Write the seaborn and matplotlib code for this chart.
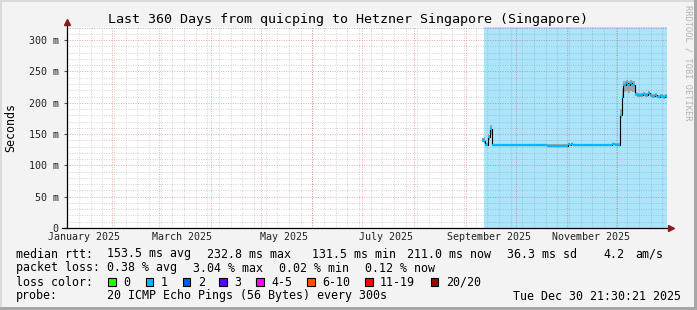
import numpy as np
import pandas as pd
import matplotlib
matplotlib.use("Agg")
import matplotlib.pyplot as plt
import matplotlib.dates as mdates
import matplotlib.transforms as mtransforms
from matplotlib.patches import Rectangle
import seaborn as sns

# ---------------- data ----------------
title = "Last 360 Days from quicping to Hetzner Singapore (Singapore)"
t_start = "2025-01-04 21:30:21"
t_end = "2025-12-30 21:30:21"
shade_start = "2025-09-12 02:00"

rtt_times = [
    "2025-09-10 21:00", "2025-09-12 02:00", "2025-09-12 16:00", "2025-09-14 12:00",
    "2025-09-15 16:00", "2025-09-16 21:00", "2025-10-01 00:00", "2025-10-20 00:00",
    "2025-11-01 11:00", "2025-11-02 16:00", "2025-11-03 12:00", "2025-11-04 12:00",
    "2025-11-27 21:00", "2025-11-29 12:00", "2025-12-02 16:00", "2025-12-03 20:00",
    "2025-12-04 08:00", "2025-12-06 00:00", "2025-12-07 12:00", "2025-12-08 16:00",
    "2025-12-09 20:00", "2025-12-11 16:00", "2025-12-12 21:00", "2025-12-14 12:00",
    "2025-12-16 11:00", "2025-12-17 16:00", "2025-12-19 11:00", "2025-12-20 16:00",
    "2025-12-21 21:00", "2025-12-23 16:00", "2025-12-24 21:00", "2025-12-26 16:00",
    "2025-12-28 16:00", "2025-12-29 16:00", "2025-12-30 21:30",
]
rtt_median = [
    141, 139, 133, 146,
    158, 132.5, 132, 131.5,
    134, 132, 133.5, 132,
    134.5, 133, 180, 210,
    229, 231, 228, 232,
    229, 214, 213, 212,
    214, 212, 215, 213,
    211, 212.5, 210, 210.5,
    209.5, 211, 211,
]
smoke_lo = [
    138, 136, 132, 140,
    150, 131.5, 131, 131,
    132, 131, 132, 131,
    133, 132, 175, 200,
    217, 218, 216, 219,
    217, 211, 210, 209,
    211, 209, 212, 210,
    208, 209.5, 207, 207.5,
    206.5, 208, 208,
]
smoke_hi = [
    144, 146, 136, 149,
    165, 134.5, 134, 133.5,
    136, 134, 135.5, 134,
    136.5, 135, 190, 222,
    235, 236, 234, 237,
    234, 217, 216, 215,
    217, 215, 218, 216,
    214, 215.5, 213, 213.5,
    212.5, 214, 214,
]

y_ticks = [0, 50, 100, 150, 200, 250, 300]
y_tick_labels = ["0", "50 m", "100 m", "150 m", "200 m", "250 m", "300 m"]
x_label_dates = ["2025-01-15", "2025-03-15", "2025-05-15",
                 "2025-07-15", "2025-09-15", "2025-11-15"]
x_labels = ["January 2025", "March 2025", "May 2025",
            "July 2025", "September 2025", "November 2025"]

loss_labels = ["0", "1", "2", "3", "4-5", "6-10", "11-19", "20/20"]
loss_colors = ["#26ff00", "#00b8ff", "#0059ff", "#5e00ff",
               "#ff00ff", "#ff5500", "#ff0000", "#a10000"]

rtt_stats = ["153.5 ms avg", "232.8 ms max", "131.5 ms min",
             "211.0 ms now", "36.3 ms sd", "4.2", "am/s"]
loss_stats = ["0.38 % avg", "3.04 % max", "0.02 % min", "0.12 % now"]
probe_text = "20 ICMP Echo Pings (56 Bytes) every 300s"
stamp_text = "Tue Dec 30 21:30:21 2025"

# ---------------- figure ----------------
W, H = 697, 310
MONO = "DejaVu Sans Mono"
fig = plt.figure(figsize=(W / 100, H / 100), dpi=100)
fig.patch.set_facecolor("#f3f3f3")

def fx(px):
    return px / W

def fy(py):
    return (H - py) / H

# frame
fig.add_artist(Rectangle((0, 0), fx(2), 1, transform=fig.transFigure, color="#dadada", lw=0))
fig.add_artist(Rectangle((0, fy(2)), 1, fy(0) - fy(2), transform=fig.transFigure, color="#dadada", lw=0))
fig.add_artist(Rectangle((fx(694), 0), fx(3), 1, transform=fig.transFigure, color="#a6a6a6", lw=0))
fig.add_artist(Rectangle((0, 0), 1, 3 / H, transform=fig.transFigure, color="#a6a6a6", lw=0))

ax = fig.add_axes([fx(67), fy(228), 600 / W, 201 / H])
ax.set_facecolor("white")

x0 = pd.Timestamp(t_start)
x1 = pd.Timestamp(t_end)
ax.set_xlim(x0, x1)
ax.set_ylim(0, 321)

# shaded region
ax.axvspan(pd.Timestamp(shade_start), x1, color="#aae5fb", lw=0, zorder=0.5)

# grid
for yv in np.arange(0, 321, 10):
    if yv % 50 == 0:
        continue
    ax.axhline(yv, color="#808080", alpha=0.35, lw=0.7, ls=(0, (1, 1.5)), zorder=1)
for d in pd.date_range("2025-01-05", x1, freq="7D"):
    ax.axvline(d, color="#808080", alpha=0.35, lw=0.7, ls=(0, (1, 1.5)), zorder=1)
for yv in y_ticks[1:]:
    ax.axhline(yv, color="#e00000", alpha=0.35, lw=0.7, ls=(0, (1, 1.5)), zorder=1.1)
ax.axhline(320, color="#808080", alpha=0.35, lw=0.7, ls=(0, (1, 1.5)), zorder=1)
for d in pd.date_range("2025-02-01", x1, freq="MS"):
    ax.axvline(d, color="#e00000", alpha=0.35, lw=0.7, ls=(0, (1, 1.5)), zorder=1.1)

# data
df = pd.DataFrame({
    "time": pd.to_datetime(rtt_times),
    "median": rtt_median,
    "lo": smoke_lo,
    "hi": smoke_hi,
})
ax.fill_between(df["time"], df["lo"], df["hi"], step="post",
                color="#9a9a9a", alpha=0.85, lw=0, zorder=2)
sns.lineplot(data=df, x="time", y="median", ax=ax, color="black",
             lw=0.8, drawstyle="steps-post", zorder=3, legend=False)
ax.hlines(df["median"].iloc[:-1], df["time"].iloc[:-1], df["time"].iloc[1:],
          color=loss_colors[1], lw=1.6, zorder=4)

# axes styling
for s in ax.spines.values():
    s.set_visible(False)
ax.plot([0, 0], [0, 1.025], transform=ax.transAxes, color="black", lw=0.9,
        clip_on=False, zorder=5)
ax.plot([-0.008, 1.006], [0, 0], transform=ax.transAxes, color="black", lw=0.9,
        clip_on=False, zorder=5)
ax.plot([0], [1.025], marker="^", ms=4.5, color="#8b1a1a", transform=ax.transAxes,
        clip_on=False, zorder=6)
ax.plot([1.006], [0], marker=">", ms=4.5, color="#8b1a1a", transform=ax.transAxes,
        clip_on=False, zorder=6)

ax.set_yticks(y_ticks)
ax.set_yticklabels(y_tick_labels, family=MONO, fontsize=7.2, color="#222222")
ax.tick_params(axis="y", length=2, width=0.8, pad=4, color="#555555")
ax.set_xticks([])
ax.set_xlabel("")
ax.set_ylabel("")

btrans = mtransforms.blended_transform_factory(ax.transData, ax.transAxes)
for d, lab in zip(x_label_dates, x_labels):
    ax.text(pd.Timestamp(d), -9.5 / 201, lab, transform=btrans, ha="center", va="center",
            family=MONO, fontsize=7.2, color="#222222")

# title, ylabel, watermark
fig.text(0.5, fy(19), title, ha="center", va="center", family=MONO, fontsize=9.6, color="black")
fig.text(fx(11), fy(127.5), "Seconds", rotation=90, ha="center", va="center",
         family=MONO, fontsize=8.4, color="black")
fig.text(fx(688), fy(5), "RRDTOOL / TOBI OETIKER", rotation=270, ha="center", va="top",
         family=MONO, fontsize=6.2, color="#b4b4b4")

# legend
def t(px, py, s, **kw):
    fig.text(fx(px), fy(py), s, ha="left", va="center", family=MONO, fontsize=8.4,
             color="black", **kw)

t(16, 254, "median rtt:")
for px, s in zip([107.3, 207.3, 311.7, 407.3, 506.7, 603.3, 635], rtt_stats):
    t(px, 254, s)

t(16, 268, "packet loss:")
for px, s in zip([107.3, 193.3, 279.3, 365], loss_stats):
    t(px, 268, s)

t(16, 282, "loss color:")
box_x = [108, 145.7, 182.7, 219, 256, 307, 365, 430.7]
for bx, c, lab in zip(box_x, loss_colors, loss_labels):
    fig.add_artist(Rectangle((fx(bx), fy(286)), 7.5 / W, 8 / H, transform=fig.transFigure,
                             facecolor=c, edgecolor="black", lw=0.8))
    t(bx + 15, 282, lab)

t(16, 296, "probe:")
t(107.3, 296, probe_text)
t(513.3, 296, stamp_text)

fig.savefig("out.png", dpi=100, facecolor=fig.get_facecolor())
